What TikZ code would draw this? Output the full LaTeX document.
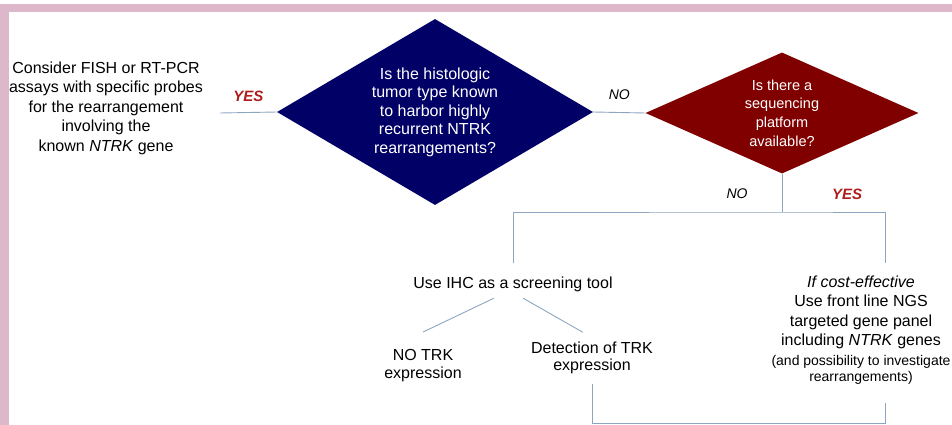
\documentclass[tikz,border=0pt]{standalone}
\usepackage{fontspec}
\setmainfont{Liberation Sans}
\usepackage{tikz}
\usetikzlibrary{shapes.geometric}
\definecolor{rosa}{HTML}{DDB8CA}
\definecolor{cAzul}{HTML}{000066}
\definecolor{cVinho}{HTML}{800000}
\definecolor{cSim}{HTML}{B01C1C}
\definecolor{cLinha}{HTML}{8DA6BE}
\newcommand{\fs}[2]{\fontsize{#1}{#2}\selectfont}

\begin{document}
\begin{tikzpicture}[x=1pt, y=-1pt,
  link/.style={cLinha, line width=0.9pt},
  txt/.style={font=\fs{16}{19.5}, align=center, inner sep=0pt},
  decisao/.style={diamond, inner sep=0pt, text=white, align=center},
  sim/.style={text=cSim, font=\fs{15}{18}\bfseries\itshape, inner sep=0pt},
  nao/.style={text=black, font=\fs{14}{17}\itshape, inner sep=0pt}]
  \useasboundingbox (0,0) rectangle (952,425);
  % moldura
  \fill[rosa] (0,4) rectangle (952,12);
  \fill[rosa] (0,4) rectangle (9,425);
  % losangos
  \node[decisao, fill=cAzul, minimum width=316pt, minimum height=186pt, aspect=1.7,
    font=\fs{16}{18.5}] (hist) at (435,112)
    {Is the histologic\\tumor type known\\to harbor highly\\recurrent NTRK\\rearrangements?};
  \node[decisao, fill=cVinho, minimum width=273pt, minimum height=121pt, aspect=2.26,
    font=\fs{14.5}{18.7}] (seq) at (782,113)
    {Is there a\\sequencing\\platform\\available?};
  % textos
  \node[txt] (fish) at (106,108)
    {Consider FISH or RT-PCR\\assays with specific probes\\for the rearrangement\\involving the\\known \emph{NTRK} gene};
  \node[txt] (ihc) at (513,284) {Use IHC as a screening tool};
  \node[txt, font=\fs{16}{18}] (notrk) at (423,366) {NO TRK\\expression};
  \node[txt, font=\fs{16}{17}] (trk) at (592,358) {Detection of TRK\\expression};
  \node[txt] (ngs) at (861,330)
    {\emph{If cost-effective}\\Use front line NGS\\targeted gene panel\\including \emph{NTRK} genes\\
     {\fs{14}{17}(and possibility to investigate}\\[-3pt]{\fs{14}{17}rearrangements)}};
  \node[nao] (nao2) at (737,194) {NO};
  \node[sim] (sim2) at (847,194) {YES};
  % conectores
  \coordinate (simfim) at (220,113);
  \draw[link] (simfim) -- (hist.west) node[sim, midway, above=10pt] {YES};
  \draw[link] (hist.east) -- (seq.west) node[nao, midway, above=12pt] {NO};
  \coordinate (ramo) at (782,212);
  \draw[link] (seq.south) -- (ramo);
  \draw[link] ([yshift=13pt]ihc.north) |- (ramo) -| ([xshift=24pt,yshift=12pt]ngs.north);
  \draw[link] ([xshift=-19pt,yshift=-6.5pt]ihc.south) -- ([yshift=17.5pt]notrk.north);
  \draw[link] ([xshift=10pt,yshift=-6.5pt]ihc.south) -- ([xshift=-9pt,yshift=9.5pt]trk.north);
  \draw[link] ([yshift=-10pt]trk.south) -- ++(0,39) -| ([xshift=24pt,yshift=-18pt]ngs.south);
\end{tikzpicture}
\end{document}
